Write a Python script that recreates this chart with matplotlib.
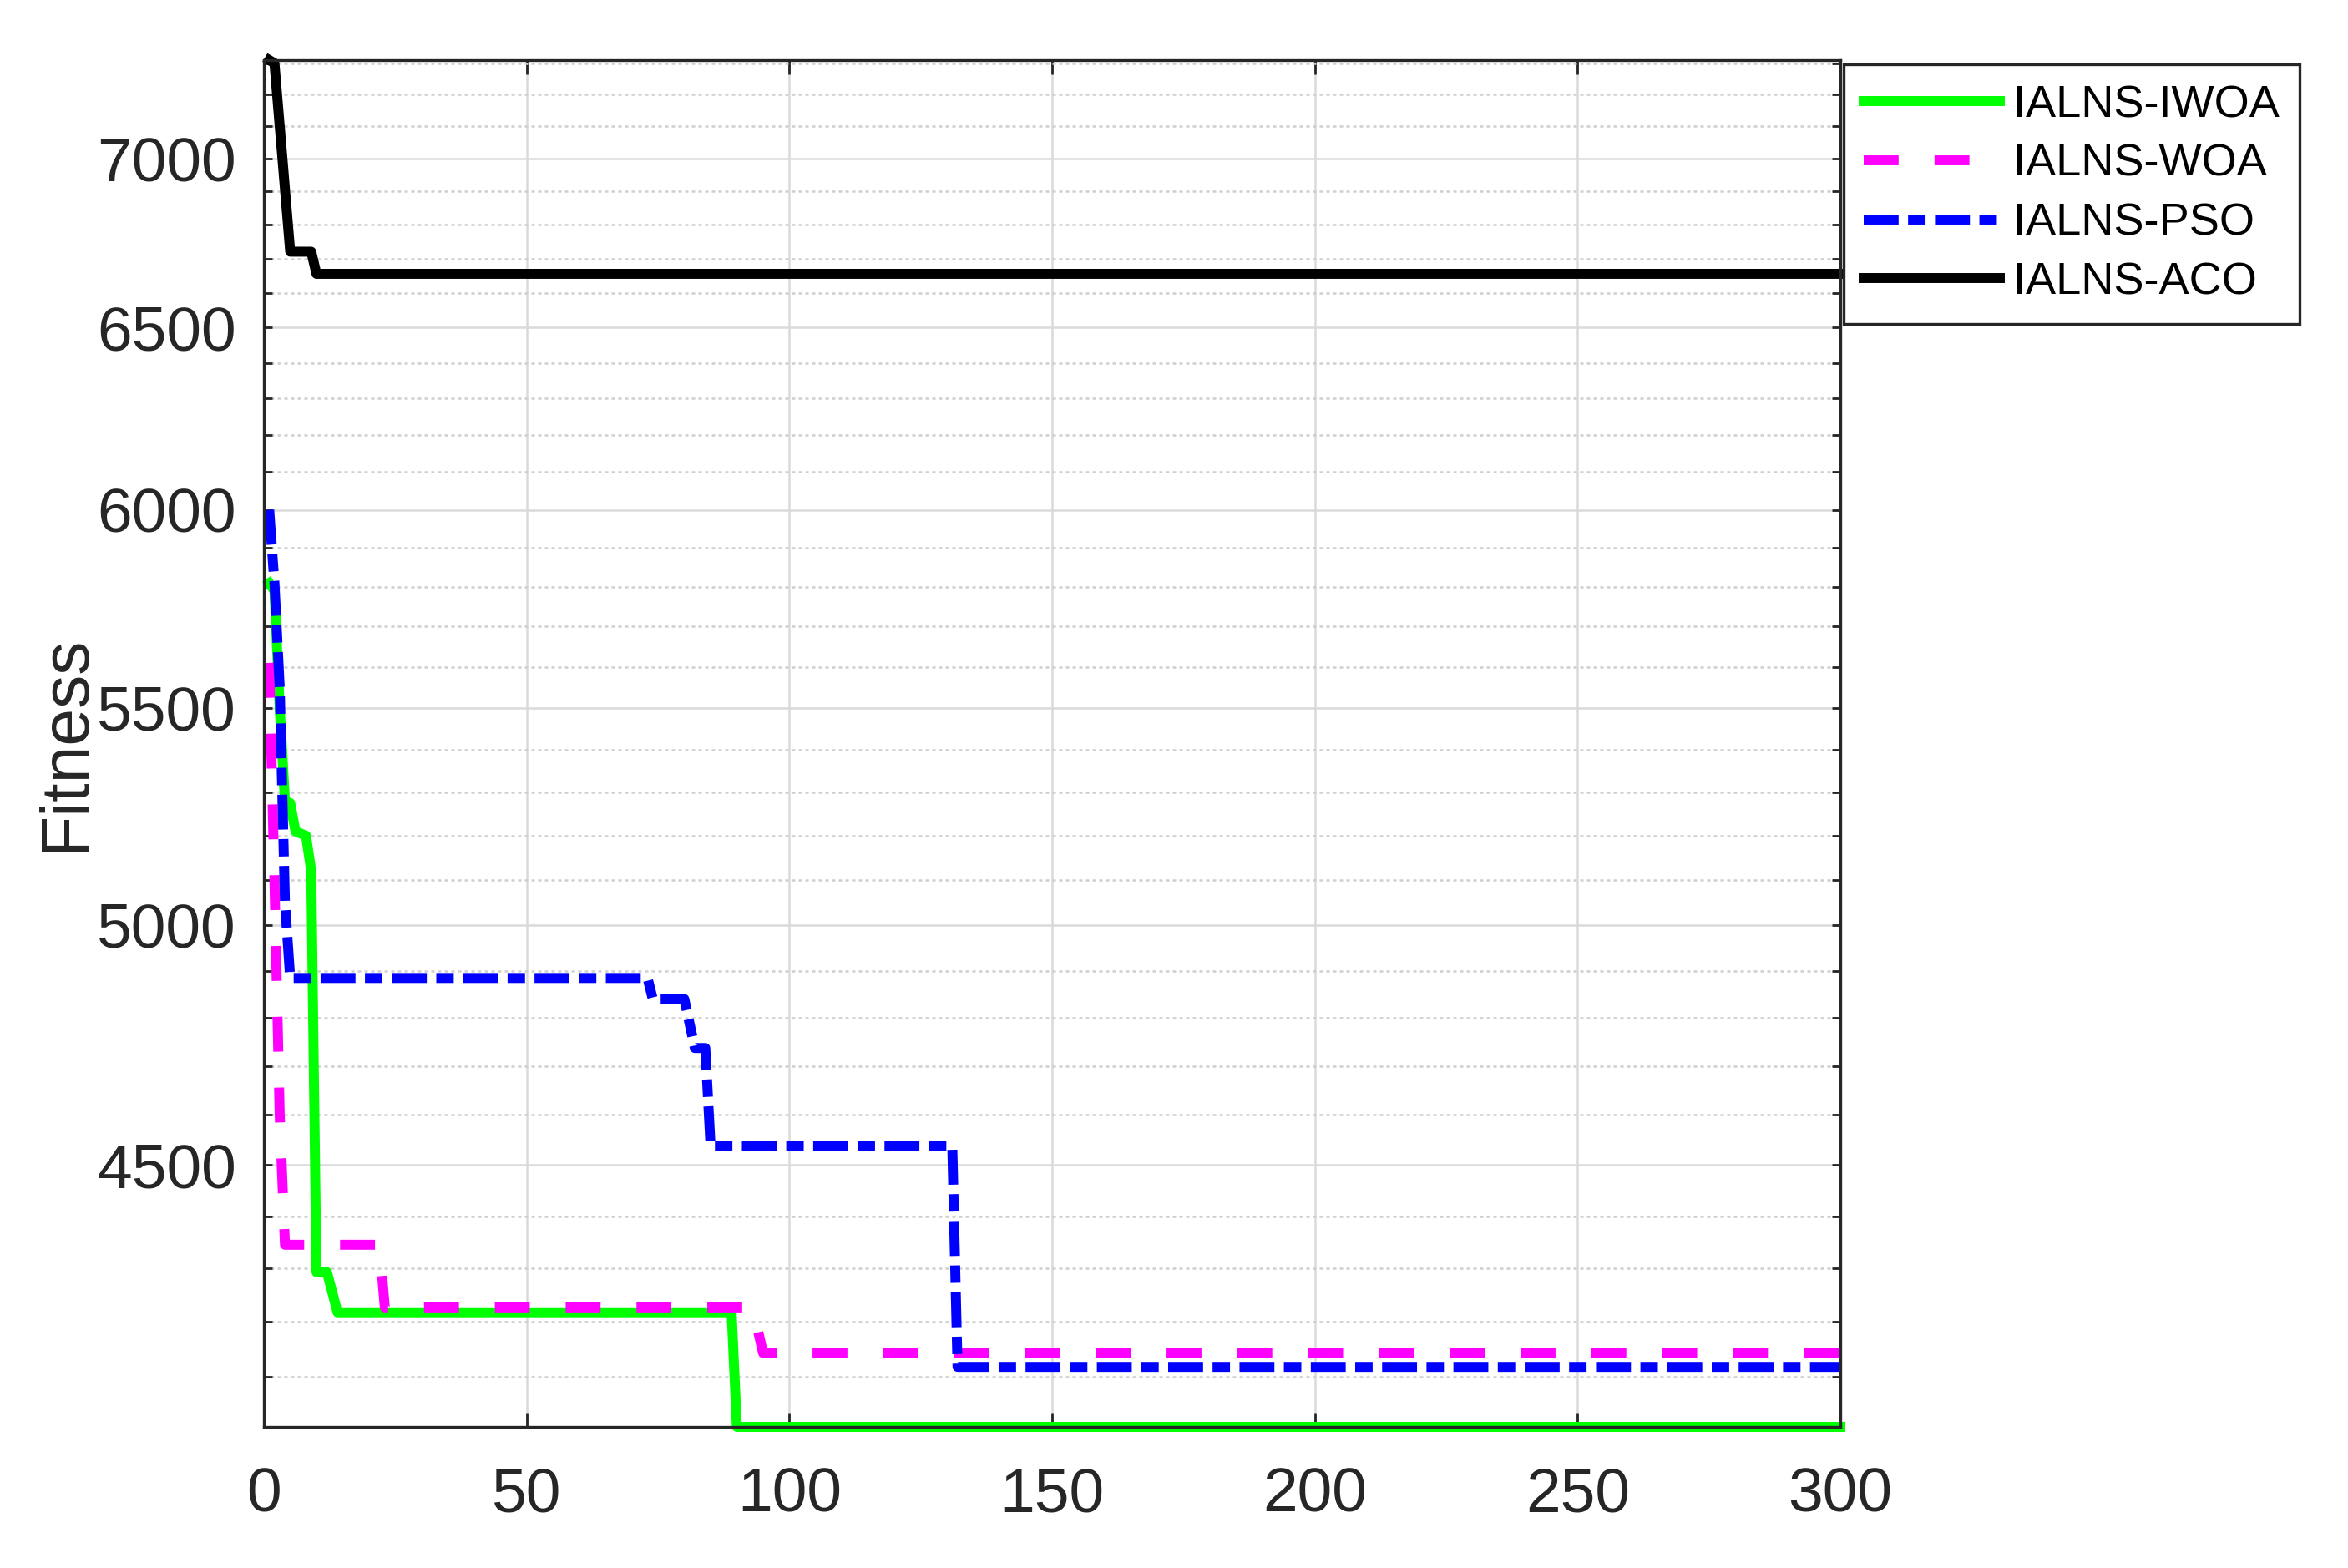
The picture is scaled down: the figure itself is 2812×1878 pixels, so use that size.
import matplotlib
matplotlib.use("Agg")
import matplotlib.pyplot as plt
from matplotlib.ticker import FixedLocator, StrMethodFormatter, NullFormatter

# === Data ===
iwoa_iter = [1, 2, 3, 4, 5, 6, 8, 9, 10, 12, 14, 89, 90, 300]
iwoa_fit = [5810, 5790, 5500, 5280, 5275, 5210, 5200, 5120, 4293, 4293, 4218, 4218, 4011, 4011]

woa_iter = [1, 2, 3, 4, 22, 23, 93, 95, 300]
woa_fit = [5610, 5100, 4600, 4345, 4345, 4227, 4227, 4143, 4143]

pso_iter = [1, 2, 3, 4, 5, 73, 74, 80, 82, 84, 85, 131, 132, 300]
pso_fit = [6000, 5810, 5550, 5050, 4885, 4885, 4840, 4840, 4737, 4737, 4537, 4537, 4118, 4118]

aco_iter = [1, 2, 5, 9, 10, 300]
aco_fit = [7310, 7300, 6720, 6720, 6655, 6655]

labels = ["IALNS-IWOA", "IALNS-WOA", "IALNS-PSO", "IALNS-ACO"]
y_major = [4500, 5000, 5500, 6000, 6500, 7000]
y_minor = [v for v in range(4100, 7400, 100) if v not in y_major]
x_ticks = [0, 50, 100, 150, 200, 250, 300]

# === Params ===
linewidth = 4.3
dark = "#262626"
plt.rcParams["font.family"] = ["Liberation Sans", "DejaVu Sans"]

fig = plt.figure(figsize=(14.06, 9.39), dpi=200)
ax = fig.add_axes([0.1124, 0.0900, 0.6714, 0.8717])

ax.plot(iwoa_iter, iwoa_fit, color="#00ff00", linewidth=linewidth, label=labels[0], clip_on=False)
ax.plot(woa_iter, woa_fit, color="#ff00ff", linewidth=linewidth, dashes=(3.5, 3.6),
        label=labels[1], clip_on=False)
ax.plot(pso_iter, pso_fit, color="#0000ff", linewidth=linewidth, dashes=(3.5, 0.95, 1.75, 0.95),
        label=labels[2], clip_on=False)
ax.plot(aco_iter, aco_fit, color="black", linewidth=linewidth, label=labels[3], clip_on=False)

ax.set_yscale("log")
all_fit = iwoa_fit + woa_fit + pso_fit + aco_fit
ax.set_ylim(min(all_fit), max(all_fit))
ax.set_xlim(0, 300)

ax.yaxis.set_major_locator(FixedLocator(y_major))
ax.yaxis.set_minor_locator(FixedLocator(y_minor))
ax.yaxis.set_major_formatter(StrMethodFormatter("{x:.0f}"))
ax.yaxis.set_minor_formatter(NullFormatter())
ax.set_xticks(x_ticks)

ax.grid(True, which="major", color="#dadada", linewidth=0.9, linestyle="-")
ax.grid(True, which="minor", axis="y", color="#cfcfcf", linewidth=0.9, linestyle=(0, (1.6, 1.6)))
ax.set_axisbelow(True)

ax.tick_params(which="both", direction="in", top=True, right=True, colors=dark, width=1.0)
ax.tick_params(axis="y", which="both", length=3.5, labelsize=27, pad=12)
ax.tick_params(axis="x", which="major", length=6, labelsize=27, pad=17)
for s in ax.spines.values():
    s.set_color(dark)
    s.set_linewidth(1.2)

# labels sit where the original figure has them; the x label is mostly cut off by the frame edge
ax.set_ylabel("Fitness", fontsize=29, color=dark)
ax.yaxis.set_label_coords(-0.105, 0.5)
ax.set_xlabel("Iterations", fontsize=27, color=dark)
ax.xaxis.set_label_coords(0.5, -0.103)

leg = ax.legend(loc="upper left", bbox_to_anchor=(2208 / 2812, 1 - 77 / 1878),
                bbox_transform=fig.transFigure, borderaxespad=0, fontsize=19.5,
                handlelength=3.0, handletextpad=0.3, labelspacing=0.38, borderpad=0.45,
                fancybox=False, framealpha=1, edgecolor=dark)
leg.get_frame().set_linewidth(1.2)

fig.savefig("out.png", dpi=200)
